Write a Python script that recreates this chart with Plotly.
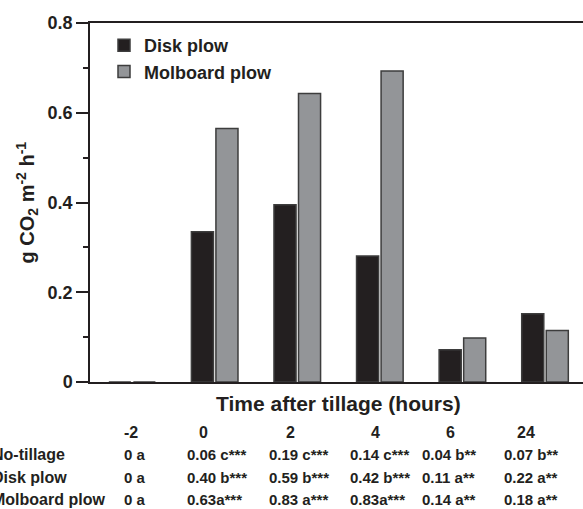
import plotly.graph_objects as go

# ---- data ----
time_labels = ["-2", "0", "2", "4", "6", "24"]
disk_plow = [0.0, 0.335, 0.395, 0.281, 0.072, 0.152]
molboard_plow = [0.0, 0.565, 0.643, 0.693, 0.098, 0.115]

table_rows = ["No-tillage", "Disk plow", "Molboard plow"]
no_tillage_vals = ["0 a", "0.06 c***", "0.19 c***", "0.14 c***", "0.04 b**", "0.07 b**"]
disk_plow_vals = ["0 a", "0.40 b***", "0.59 b***", "0.42 b***", "0.11 a**", "0.22 a**"]
molboard_plow_vals = ["0 a", "0.63a***", "0.83 a***", "0.83a***", "0.14 a**", "0.18 a**"]

# ---- layout constants (pixels) ----
W, H = 583, 509
L, R, T, B = 90, 0, 23, 127
PW, PH = W - L - R, H - T - B
FONT = "Liberation Sans, Arial, Helvetica, sans-serif"
INK = "#231f20"


def px_x(x):
    return (x - L) / PW


def px_y(y):
    return (H - B - y) / PH


fig = go.Figure()
fig.add_trace(go.Bar(
    name="Disk plow", x=time_labels, y=disk_plow,
    marker=dict(color=INK, line=dict(color="#3d3d3d", width=1.5)),
))
fig.add_trace(go.Bar(
    name="Molboard plow", x=time_labels, y=molboard_plow,
    marker=dict(color="#939598", line=dict(color="#3d3d3d", width=1.5)),
))

annotations = []
# y-axis title
annotations.append(dict(
    text="g CO<sub>2</sub> m<sup>-2</sup> h<sup>-1</sup>",
    xref="paper", yref="paper", x=px_x(27), y=0.5, textangle=-90,
    showarrow=False, font=dict(family=FONT, size=20, color=INK, weight="bold"),
    xanchor="center", yanchor="middle",
))
# x-axis title
annotations.append(dict(
    text="Time after tillage (hours)",
    xref="paper", yref="paper", x=px_x(338), y=px_y(403),
    showarrow=False, font=dict(family=FONT, size=21, color=INK, weight="bold"),
    xanchor="center", yanchor="middle",
))

header_x = [131, 203, 290, 375, 450, 526]
value_x = [122, 185, 267, 348, 420, 502]
header_y = 432
row_y = [454, 477, 499]
tfont = dict(family=FONT, size=15, color=INK, weight="bold")
hfont = dict(family=FONT, size=16, color=INK, weight="bold")

for hx, lab in zip(header_x, time_labels):
    annotations.append(dict(text=lab, xref="paper", yref="paper", x=px_x(hx), y=px_y(header_y),
                            showarrow=False, font=hfont, xanchor="center", yanchor="middle"))

for ry, name, vals in zip(row_y, table_rows, [no_tillage_vals, disk_plow_vals, molboard_plow_vals]):
    annotations.append(dict(text=name, xref="paper", yref="paper", x=px_x(-10), y=px_y(ry),
                            showarrow=False, font=hfont, xanchor="left", yanchor="middle"))
    for vx, v in zip(value_x, vals):
        annotations.append(dict(text=v, xref="paper", yref="paper", x=px_x(vx), y=px_y(ry),
                                showarrow=False, font=tfont, xanchor="left", yanchor="middle"))

fig.update_layout(
    width=W, height=H,
    margin=dict(l=L, r=R, t=T, b=B, pad=0),
    paper_bgcolor="white", plot_bgcolor="white",
    barmode="group", bargap=0.406, bargroupgap=0.1,
    font=dict(family=FONT, color=INK),
    showlegend=True,
    legend=dict(x=px_x(104), y=px_y(27), xanchor="left", yanchor="top",
                bgcolor="rgba(0,0,0,0)", font=dict(family=FONT, size=18, color=INK, weight="bold"),
                tracegroupgap=0, itemwidth=30),
    xaxis=dict(
        type="category", range=[-0.51, 5.46],
        showticklabels=False, ticks="", showgrid=False, zeroline=False,
        showline=True, mirror=True, linecolor=INK, linewidth=1.5,
    ),
    yaxis=dict(
        range=[0, 0.8], tickvals=[0, 0.2, 0.4, 0.6, 0.8], ticktext=["0", "0.2", "0.4", "0.6", "0.8"],
        ticks="outside", ticklen=12, tickwidth=1.5, tickcolor=INK,
        minor=dict(tickvals=[0.1, 0.3, 0.5, 0.7], ticks="outside", ticklen=5, tickwidth=1.5, tickcolor=INK),
        showgrid=False, zeroline=False, showline=True, mirror=False, linecolor=INK, linewidth=1.5,
        tickfont=dict(family=FONT, size=18, color=INK, weight="bold"),
    ),
    annotations=annotations,
)

fig.write_html("out.html")
